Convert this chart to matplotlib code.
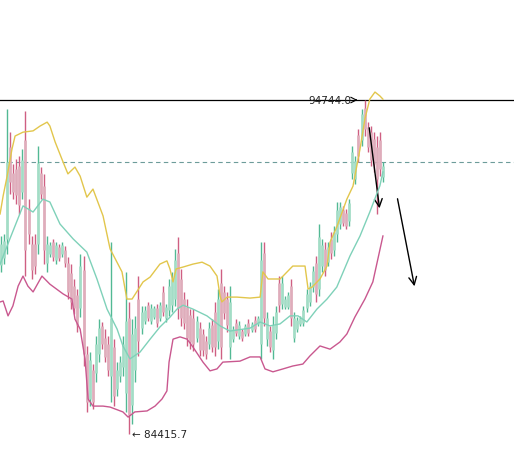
import matplotlib
matplotlib.use('Agg')
import matplotlib.pyplot as plt

# OHLC bars (price)
opens = [89650, 89850, 90450, 93300, 92500, 92600, 92700, 91900, 93500, 91400,
         90300, 90300, 90300, 92500, 92100, 89700, 89990, 90350, 89800, 90200,
         89990, 90100, 89700, 89400, 89000, 88700, 88300, 89500, 86900, 85500,
         86400, 86300, 86900, 87750, 87400, 87200, 86200, 87100, 85800, 86200,
         86500, 85700, 88000, 85300, 86400, 88600, 87700, 87900, 88400, 87900,
         88050, 88300, 88000, 88800, 88000, 88250, 88400, 88600, 90000, 89200,
         88600, 88350, 88100, 88000, 87400, 87700, 87500, 87300, 87200, 87800,
         88200, 87300, 89100, 88800, 88600, 87100, 87350, 87850, 87450, 87600,
         87500, 87850, 87620, 87950, 87820, 87200, 90000, 87350, 87600, 87000,
         87550, 89100, 88450, 88350, 88350, 89000, 87400, 87650, 87820, 87850,
         88300, 88500, 88950, 89700, 88900, 89600, 90150, 89750, 90450, 90100,
         90600, 90900, 91350, 91250, 91000, 92500, 92300, 93650, 93500, 94500,
         93900, 93750, 93550, 93300, 93500, 92350]
highs = [90540, 90600, 94470, 93760, 92770, 92920, 93010, 93230, 94400, 91680,
         90540, 90600, 93320, 92670, 92460, 90540, 90350, 90450, 90350, 90290,
         90350, 90230, 89890, 89670, 89210, 88900, 89980, 89920, 87140, 86950,
         86580, 87450, 87970, 87880, 87660, 87450, 90350, 87350, 86640, 86830,
         87450, 89430, 88500, 87970, 88070, 89300, 88370, 88370, 88500, 88440,
         88370, 88440, 88500, 88990, 88440, 89210, 89430, 90140, 90510, 89520,
         88810, 88590, 88280, 88280, 88070, 87880, 87660, 87450, 87880, 87970,
         88500, 88900, 89520, 88990, 88810, 88990, 87760, 87970, 87910, 87660,
         87820, 87970, 87880, 88070, 88070, 90350, 90350, 88190, 87760, 88070,
         88370, 89300, 89300, 88680, 88810, 89210, 88190, 88030, 88070, 88370,
         88900, 89120, 89610, 89920, 90910, 90450, 90350, 90350, 90660, 90850,
         91590, 91590, 91470, 91370, 91680, 93320, 93010, 93850, 94470, 94744,
         94060, 93940, 93760, 93630, 93760, 92830]
lows = [89430, 89670, 89980, 91840, 91680, 91530, 91220, 91680, 89300, 90290,
        89210, 89360, 89980, 91680, 89670, 89430, 89890, 89770, 89670, 89770,
        89890, 89580, 88590, 88280, 88130, 87570, 88030, 86520, 85100, 85280,
        85190, 86020, 86640, 87050, 86640, 86210, 85400, 85280, 85590, 86020,
        86210, 85100, 84415.7, 84730, 86020, 86830, 87510, 87820, 87910, 87820,
        87970, 87730, 87910, 88070, 87880, 88070, 88190, 88370, 87970, 87760,
        87660, 87140, 87050, 86980, 87260, 86830, 86830, 86740, 87050, 86950,
        86830, 87050, 86740, 87970, 87570, 86740, 87260, 87450, 87350, 87290,
        87450, 87450, 87570, 87570, 87760, 86740, 87760, 87140, 86950, 86740,
        87350, 88190, 88280, 88280, 88280, 87760, 87260, 87570, 87760, 87760,
        88190, 88370, 88810, 88500, 88680, 89430, 89300, 89610, 89830, 89920,
        90350, 90760, 90850, 90760, 90850, 92300, 92150, 92830, 93320, 93630,
        93140, 92700, 92520, 91220, 92390, 92210]
closes = [90300, 90400, 92830, 92200, 91900, 91800, 91500, 92900, 90100, 90600,
          89500, 89600, 92800, 91850, 90100, 90300, 90250, 89900, 90250, 89850,
          90250, 89700, 88800, 88500, 88300, 87800, 89600, 86900, 85400, 86700,
          85400, 87200, 87700, 87200, 86800, 86400, 88000, 85600, 86400, 86650,
          87200, 87900, 85000, 87500, 87700, 87300, 88200, 88250, 88000, 88300,
          88300, 87850, 88400, 88200, 88350, 89000, 89200, 89800, 88300, 88000,
          87850, 87400, 87250, 87200, 87900, 87000, 87000, 86900, 87700, 87100,
          87100, 88600, 87100, 88150, 87800, 88500, 87650, 87550, 87800, 87380,
          87750, 87550, 87820, 87650, 88000, 89800, 88000, 88000, 87100, 87800,
          88200, 88400, 89100, 88600, 88700, 88000, 88000, 87950, 88000, 88250,
          88750, 89000, 89450, 88750, 90500, 90250, 89500, 90200, 90000, 90650,
          91350, 91450, 90950, 90850, 91550, 93150, 92850, 93000, 94300, 93850,
          93300, 92900, 92750, 92300, 92600, 92700]

# Bollinger bands (bar index, price)
upper_x = [-0.3, 0.7, 2.0, 3.6, 4.6, 7.2, 10.5, 12.8, 15.1, 16.0, 17.7, 20.3, 21.9,
           24.2, 25.9, 28.1, 30.1, 33.4, 35.7, 39.6, 41.2, 42.9, 46.5, 48.8, 52.0,
           54.3, 55.3, 56.3, 57.3, 59.6, 62.8, 65.8, 68.4, 70.7, 71.7, 72.3, 74.0,
           77.2, 81.5, 84.8, 85.7, 87.4, 91.3, 92.3, 95.5, 99.5, 100.5, 101.8,
           104.4, 106.7, 107.7, 109.9, 113.2, 115.2, 117.5, 119.1, 120.7, 122.4,
           124.0, 125.0]
upper_y = [91220, 91780, 92390, 93230, 93630, 93750, 93790, 93940, 94060, 93940,
           93450, 92830, 92460, 92670, 92390, 91740, 91990, 91160, 90140, 89430,
           88590, 88590, 89120, 89270, 89670, 89770, 89520, 89120, 89520, 89580,
           89670, 89730, 89610, 89300, 88680, 88500, 88650, 88650, 88620, 88650,
           89430, 89210, 89210, 89300, 89610, 89610, 88900, 88960, 89210, 89610,
           90350, 90820, 91680, 92080, 93230, 94160, 94770, 94990, 94870, 94770]
mid_x = [-0.3, 2.9, 7.2, 10.5, 13.7, 16.0, 19.3, 23.6, 28.1, 31.4, 34.7, 38.0, 39.9,
         42.2, 45.5, 48.8, 52.0, 55.3, 57.6, 59.6, 62.8, 67.4, 71.7, 74.9, 81.5,
         84.8, 88.0, 91.3, 94.6, 97.2, 100.1, 103.4, 106.7, 109.9, 114.2, 117.5,
         120.7, 124.0, 125.0]
mid_y = [89670, 90450, 91470, 91280, 91680, 91590, 90910, 90450, 90040, 89210,
         88280, 87660, 87140, 86740, 86950, 87350, 87725, 88030, 88280, 88400,
         88280, 88070, 87760, 87600, 87690, 87880, 87760, 87820, 88070, 88070,
         87880, 88280, 88590, 88960, 89920, 90540, 91280, 92090, 92520]
lower_x = [-0.3, 0.7, 2.3, 3.9, 5.6, 7.2, 8.8, 10.5, 13.4, 16.0, 20.3, 23.2, 24.2,
           25.9, 27.5, 28.5, 30.1, 33.4, 35.7, 39.9, 41.6, 43.8, 47.8, 50.4, 52.7,
           54.3, 55.0, 56.3, 58.6, 60.9, 62.8, 66.1, 68.4, 70.7, 72.6, 78.2, 81.5,
           84.8, 86.4, 89.0, 92.3, 95.5, 98.8, 101.1, 104.4, 107.7, 110.9, 113.2,
           115.8, 119.1, 121.7, 125.0]
lower_y = [88500, 88530, 88070, 88380, 88990, 89300, 88990, 88810, 89300, 89050,
           88750, 88590, 87970, 87660, 86740, 85500, 85280, 85280, 85250, 85100,
           84940, 85100, 85130, 85280, 85500, 85750, 86640, 87350, 87420, 87350,
           87110, 86640, 86370, 86430, 86640, 86670, 86800, 86800, 86430, 86340,
           86430, 86520, 86580, 86830, 87140, 87040, 87260, 87510, 88030, 88590,
           89120, 90540]

high_mark = 94744.0
low_mark = 84415.7
last_price = 92827

fig = plt.figure(figsize=(5.14, 4.56), dpi=100, facecolor='white')
ax = fig.add_axes([0, 0, 1, 1])
ax.set_axis_off()

# bars
xs = list(range(len(opens)))
for i in xs:
    up = closes[i] >= opens[i]
    wick = '#52b994' if up else '#cf5f82'
    body = '#a3ddc6' if up else '#dfadbb'
    ax.vlines(i, lows[i], highs[i], color=wick, lw=1.0, zorder=2)
    ax.vlines(i, min(opens[i], closes[i]), max(opens[i], closes[i]),
              color=body, lw=1.9, zorder=3)

# bands
ax.plot(upper_x, upper_y, color='#e2c64c', lw=1.0, zorder=4)
ax.plot(mid_x, mid_y, color='#7fd1b9', lw=1.0, zorder=4)
ax.plot(lower_x, lower_y, color='#c9588f', lw=1.0, zorder=4)

# reference lines
ax.axhline(high_mark, color='black', lw=0.9, zorder=1)
ax.axhline(last_price, color='#6d9c9a', lw=0.8, ls=(0, (4, 3)), zorder=1)

ax.annotate('', xy=(117.6, high_mark), xytext=(115.0, high_mark),
            arrowprops=dict(arrowstyle='->', color='black', lw=0.8))
ax.text(114.6, high_mark, f'{high_mark:.1f}', ha='right', va='center',
        fontsize=7.5, color='#222222')
ax.text(42.8, low_mark, f'\u2190 {low_mark:.1f}', ha='left', va='center',
        fontsize=7.5, color='#222222')

# trend arrows
ax.annotate('', xy=(124.0, 91310), xytext=(120.4, 93970),
            arrowprops=dict(arrowstyle='->', color='black', lw=1.0,
                            mutation_scale=14))
ax.annotate('', xy=(135.5, 88900), xytext=(129.6, 91775),
            arrowprops=dict(arrowstyle='->', color='black', lw=1.0,
                            mutation_scale=14))

ax.set_xlim(-0.33, 167.9)
ax.set_ylim(83768, 97867)

fig.savefig('out.png', dpi=100, facecolor='white')
